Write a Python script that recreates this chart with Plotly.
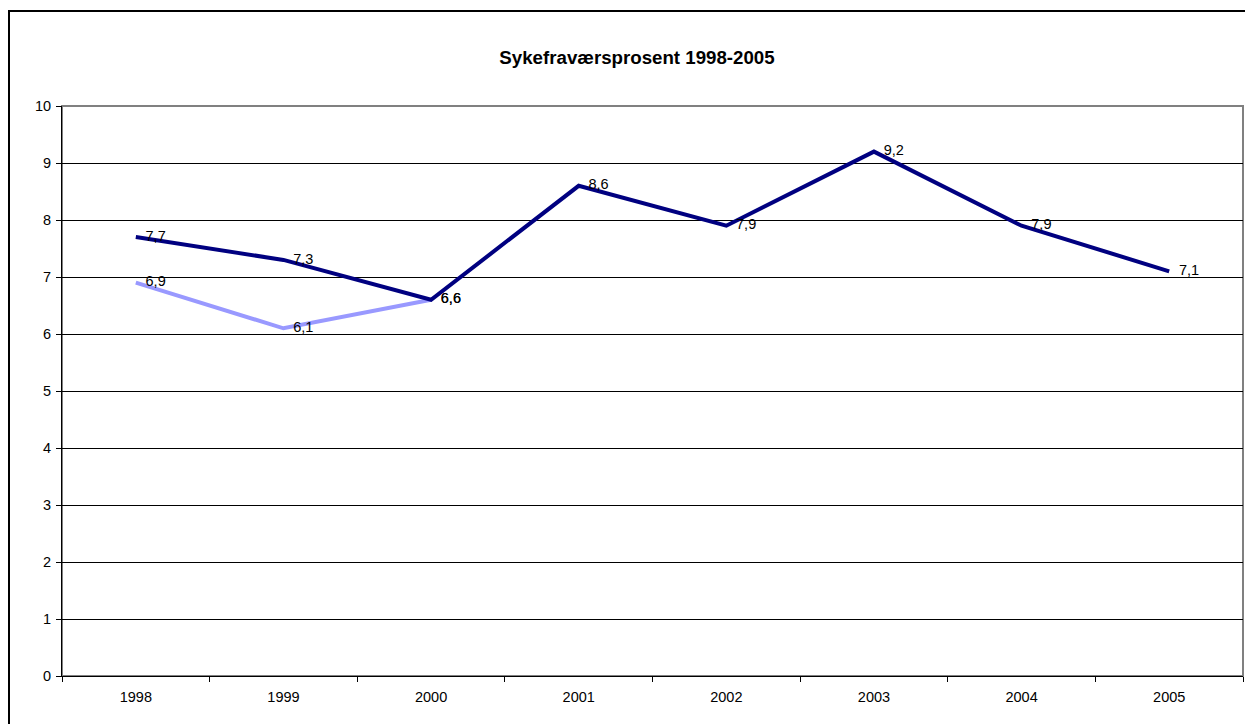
import plotly.graph_objects as go

years = ["1998", "1999", "2000", "2001", "2002", "2003", "2004", "2005"]
series_dark = [7.7, 7.3, 6.6, 8.6, 7.9, 9.2, 7.9, 7.1]
series_light = [6.9, 6.1, 6.6, None, None, None, None, None]
title_text = "Sykefraværsprosent 1998-2005"

# page body has an 8px margin; figure sized to fill the rest of the window
W, H = 1245, 716
L, R, T, B = 54, 10, 98, 48
pw, ph = W - L - R, H - T - B

font = "Liberation Sans, Arial, sans-serif"
fs = 14.5

def add_series(vals, color):
    fig.add_trace(go.Scatter(
        x=years, y=vals, mode="lines+markers+text",
        line=dict(color=color, width=4),
        marker=dict(size=14, color="rgba(0,0,0,0)", line=dict(width=0)),
        text=vals, texttemplate="%{y:.1f}", textposition="middle right",
        textfont=dict(family=font, size=fs, color="black"),
        cliponaxis=False, showlegend=False, hoverinfo="skip"))

fig = go.Figure()
add_series(series_light, "#9999FF")
add_series(series_dark, "#000080")

fig.update_layout(
    width=W, height=H,
    margin=dict(l=L, r=R, t=T, b=B, pad=0),
    paper_bgcolor="white", plot_bgcolor="white",
    separators=", ",
    font=dict(family=font, size=fs, color="black"),
    title=dict(text="<b>" + title_text + "</b>", x=629 / W, xanchor="center",
               y=1 - 49 / H, yanchor="middle", xref="container", yref="container",
               font=dict(family=font, size=18.7, color="black")),
    xaxis=dict(type="category", tickson="boundaries", ticks="outside", ticklen=5,
               tickcolor="black", showline=True, linecolor="black", linewidth=1,
               showgrid=False, zeroline=False, range=[-0.5, 7.5],
               ticklabelstandoff=8,
               tickfont=dict(family=font, size=fs, color="black")),
    yaxis=dict(range=[0, 10], dtick=1, ticks="outside", ticklen=5, tickcolor="black",
               showline=True, linecolor="black", linewidth=1,
               showgrid=True, gridcolor="black", gridwidth=1, zeroline=False,
               ticklabelstandoff=2,
               tickfont=dict(family=font, size=fs, color="black")),
    shapes=[
        dict(type="rect", xref="paper", yref="paper", x0=0, x1=1, y0=0, y1=1,
             line=dict(color="#808080", width=2), layer="below"),
        dict(type="rect", xref="paper", yref="paper",
             x0=(1 - L) / pw, x1=1.2, y0=-0.3, y1=1 + (T - 3) / ph,
             line=dict(color="black", width=2), layer="above"),
    ],
)

fig.write_html("out.html")
